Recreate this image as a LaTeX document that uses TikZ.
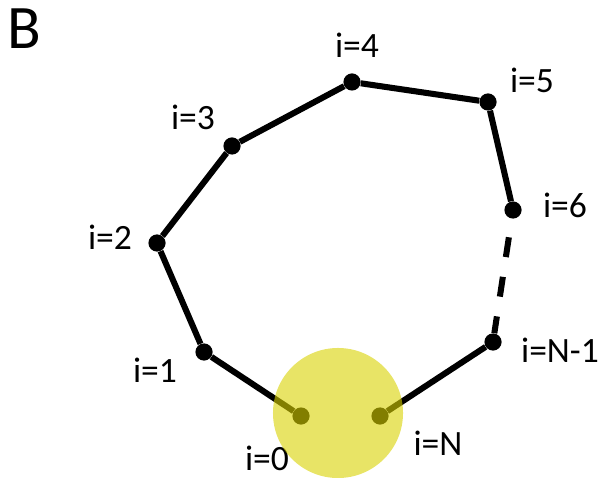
\documentclass[tikz,border=0pt]{standalone}
\usepackage{fontspec}
\setmainfont{Carlito}
\usepackage{tikz}
\usetikzlibrary{positioning}
\definecolor{hilite}{RGB}{217,210,0}
\tikzset{
  bead/.style={circle,fill=black,inner sep=0pt,minimum size=0.43cm},
  lbl/.style={anchor=base,inner sep=0pt,font=\fontsize{25.3}{30}\selectfont},
  bond/.style={line width=4.3pt,black},
  gapbond/.style={bond,dash pattern=on 0.5cm off 0.5cm,dash phase=0.075cm},
  glow/.style={circle,fill=hilite,fill opacity=0.6,inner sep=0pt,minimum size=3.25cm},
}
\begin{document}
\begin{tikzpicture}[x=0.025cm,y=-0.025cm]
  \useasboundingbox (0,0) rectangle (604,478);
  % panel letter
  \node[anchor=base west,inner sep=0pt,font=\fontsize{44}{50}\selectfont] (panel) at (7,49) {B};
  % beads of the chain
  \node[bead] (p0) at (301,416) {};
  \node[bead] (p1) at (204,352) {};
  \node[bead] (p2) at (157,243) {};
  \node[bead] (p3) at (232,146) {};
  \node[bead] (p4) at (352,82) {};
  \node[bead] (p5) at (488,102) {};
  \node[bead] (p6) at (513,210) {};
  \node[bead] (pm) at (493,342) {};
  \node[bead] (pn) at (380,416) {};
  % bonds
  \draw[bond] (p0) -- (p1) -- (p2) -- (p3) -- (p4) -- (p5) -- (p6);
  \draw[gapbond] (pm) -- (p6);
  \draw[bond] (pm) -- (pn);
  % labels
  \node[lbl] (l0) at (267,470) {i=0};
  \node[lbl] (l1) at (155,382) {i=1};
  \node[lbl] (l2) at (110,250) {i=2};
  \node[lbl] (l3) at (193,130) {i=3};
  \node[lbl] (l4) at (357,58) {i=4};
  \node[lbl] (l5) at (532,93) {i=5};
  \node[lbl] (l6) at (565,218) {i=6};
  \node[lbl] (lm) at (560,362) {i=N-1};
  \node[lbl] (ln) at (438,455) {i=N};
  % ends highlighted
  \node[glow] (ends) at (338,413) {};
\end{tikzpicture}
\end{document}
